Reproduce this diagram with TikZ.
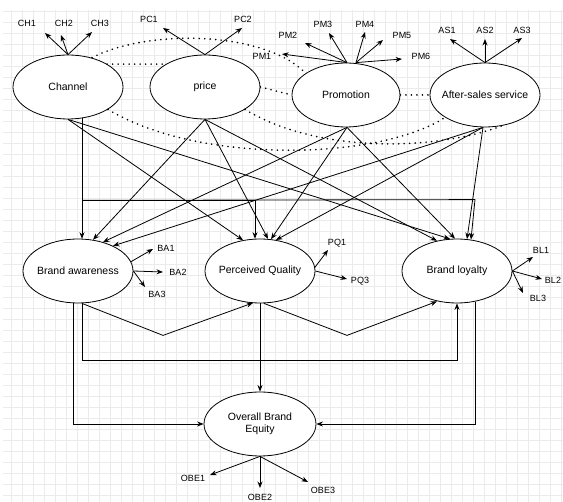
\documentclass[tikz,border=0pt]{standalone}
\usepackage{fontspec}
\setmainfont{Liberation Sans}
\usetikzlibrary{shapes.geometric,arrows.meta,calc}
\begin{document}
\begin{tikzpicture}[x=1pt,y=-1pt,
  lat/.style={draw, ellipse, line width=0.8pt, minimum width=110pt, minimum height=64pt, inner sep=0pt, fill=white},
  txt/.style={font=\fontsize{10.5}{12.5}\selectfont, align=center, inner sep=0pt},
  ind/.style={font=\fontsize{9}{10}\selectfont, inner sep=0pt},
  arr/.style={line width=0.8pt, -{Stealth[length=6.5pt,width=5pt]}},
  cor/.style={line width=1.8pt, dash pattern=on 0pt off 5.5pt, line cap=round}]
\useasboundingbox (0,0) rectangle (563,502);
\fill[white] (0,0) rectangle (563,502);
\draw[gray!16, line width=0.4pt, step=11pt] (3,10) grid (563,502);

% latent variables
\node[lat] (ch) at (68,87) {};
\node[lat] (pr) at (205,87) {};
\node[lat, minimum width=108pt] (pm) at (346,95) {};
\node[lat] (as) at (485,95) {};
\node[lat] (ba) at (78,271) {};
\node[lat] (pq) at (260,271) {};
\node[lat] (bl) at (457,271) {};
\node[lat, minimum width=112pt] (obe) at (260,424) {};
\node[txt] (ch-t) at (ch) {Channel};
\node[txt] (pr-t) at (pr) {price};
\node[txt] (pm-t) at (pm) {Promotion};
\node[txt] (as-t) at (as) {After-sales service};
\node[txt] (ba-t) at (ba) {Brand awareness};
\node[txt] (pq-t) at (pq) {Perceived Quality};
\node[txt] (bl-t) at (bl) {Brand loyalty};
\node[txt] (obe-t) at (obe) {Overall Brand\\Equity};

% indicator labels
\node[ind] (ch1) at (27,23) {CH1};
\node[ind] (ch2) at (64,23) {CH2};
\node[ind] (ch3) at (100,23) {CH3};
\node[ind] (pc1) at (149,19) {PC1};
\node[ind] (pc2) at (243,19) {PC2};
\node[ind] (pm1) at (262,56) {PM1};
\node[ind] (pm2) at (288,35) {PM2};
\node[ind] (pm3) at (323,24) {PM3};
\node[ind] (pm4) at (365,24) {PM4};
\node[ind] (pm5) at (402,35) {PM5};
\node[ind] (pm6) at (421,56) {PM6};
\node[ind] (as1) at (447,30) {AS1};
\node[ind] (as2) at (485,30) {AS2};
\node[ind] (as3) at (522,30) {AS3};
\node[ind] (ba1) at (166,248) {BA1};
\node[ind] (ba2) at (178,272) {BA2};
\node[ind] (ba3) at (157,294) {BA3};
\node[ind] (pq1) at (337,243) {PQ1};
\node[ind] (pq3) at (360,281) {PQ3};
\node[ind] (bl1) at (541,250) {BL1};
\node[ind] (bl2) at (553,280) {BL2};
\node[ind] (bl3) at (538,298) {BL3};
\node[ind] (obe1) at (193,478) {OBE1};
\node[ind] (obe2) at (260,497) {OBE2};
\node[ind] (obe3) at (323,490) {OBE3};

% arrow tips of indicators
\coordinate (t-ch1) at (45,33);
\coordinate (t-ch2) at (61,35);
\coordinate (t-ch3) at (92,32);
\coordinate (t-pc1) at (163,28);
\coordinate (t-pc2) at (242,28);
\coordinate (t-pm1) at (282,54);
\coordinate (t-pm2) at (305,43);
\coordinate (t-pm3) at (329,33);
\coordinate (t-pm4) at (365,32);
\coordinate (t-pm5) at (383,40);
\coordinate (t-pm6) at (402,59);
\coordinate (t-as1) at (450,39);
\coordinate (t-as2) at (485,39);
\coordinate (t-as3) at (522,38);
\coordinate (t-ba1) at (153,249);
\coordinate (t-ba2) at (163,272);
\coordinate (t-ba3) at (145,287);
\coordinate (t-pq1) at (328,250);
\coordinate (t-pq3) at (347,279);
\coordinate (t-bl1) at (533,257);
\coordinate (t-bl2) at (542,279);
\coordinate (t-bl3) at (523,293);
\coordinate (t-obe1) at (210,475);
\coordinate (t-obe2) at (260,488);
\coordinate (t-obe3) at (308,482);

\foreach \t in {ch1,ch2,ch3} \draw[arr] (ch.north) -- (t-\t);
\foreach \t in {pc1,pc2} \draw[arr] (pr.north) -- (t-\t);
\foreach \t in {pm1,pm2,pm3} \draw[arr] ($(pm.north)+(1,0)$) -- (t-\t);
\foreach \t in {pm4,pm5,pm6} \draw[arr] ($(pm.north)+(10,0)$) -- (t-\t);
\foreach \t in {as1,as2,as3} \draw[arr] (as.north) -- (t-\t);
\draw[arr] (ba.10) -- (t-ba1);
\foreach \t in {ba2,ba3} \draw[arr] (ba.east) -- (t-\t);
\draw[arr] ($(pq.east)+(-1,-3)$) -- (t-pq1);
\draw[arr] (pq.east) -- (t-pq3);
\foreach \t in {bl1,bl2,bl3} \draw[arr] (bl.east) -- (t-\t);
\foreach \t in {obe1,obe2,obe3} \draw[arr] (obe.south) -- (t-\t);

% correlations
\draw[cor] (ch.north east) -- (pr.north west);
\draw[cor] ($(ch.north)+(24,3)$) .. controls (150,28) and (265,32) .. ($(pm.north)+(-41,10)$);
\draw[cor] (pr.east) -- (pm.west);
\draw[cor] (pm.east) -- (as.west);
\draw[cor] ($(ch.south)+(40,-10)$) .. controls (200,165) and (380,160) .. ($(as.south)+(-40,-10)$);
\draw[cor] ($(pr.south)+(40,-10)$) .. controls (320,155) and (440,150) .. ($(as.south)+(18,-2)$);

% Channel paths
\coordinate (chv) at ($(ch.south)+(14,-1)$);
\coordinate (brk) at ($(ch.south)+(14,81)$);
\draw[arr] (chv) -- ($(ba.north)+(4,0.2)$);
\draw[arr] (brk) -| ($(pq.north)+(-5,0.1)$);
\draw[arr] (brk) -- ($(bl.north)+(18,-39)$) -- ($(bl.north)+(14,1)$);
\draw[arr] (ch.south) -- ($(pq.north)+(-17,1.6)$);
\draw[arr] (ch.south) -- ($(bl.north)+(-7,0.3)$);

% price paths
\draw[arr] (pr.south) -- ($(ba.north)+(15,1.2)$);
\draw[arr] (pr.south) -- ($(pq.north)+(8,0.3)$);
\draw[arr] (pr.south) -- ($(bl.north)+(-20,2.2)$);

% Promotion paths
\draw[arr] ($(pm.south)+(1,0)$) -- ($(ba.north)+(25,3.5)$);
\draw[arr] ($(pm.south)+(1,0)$) -- ($(pq.north)+(11,0.6)$);
\draw[arr] ($(pm.south)+(1,0)$) -- ($(bl.north)+(-2,0)$);

% After-sales paths
\draw[arr] ($(as.south)+(-2,0)$) -- ($(ba.north)+(35,7.3)$);
\draw[arr] ($(as.south)+(-2,0)$) -- ($(pq.north)+(16,1.4)$);
\draw[arr] ($(as.south)+(-2,0)$) -- ($(bl.north)+(10,0.5)$);

% lower structure
\draw[arr] ($(ba.south)+(4,0)$) -- ++(81,32) -- ($(pq.south)+(-7,-0.5)$);
\draw[arr] ($(pq.south)+(4,0)$) -- ++(83,32) -- ($(bl.south)+(-20,-2)$);
\draw[arr] ($(ba.south)+(4,0)$) -- ++(0,57) -| (bl.south);
\draw[arr] ($(ba.south)+(-5,-0.3)$) |- (obe.west);
\draw[arr] (pq.south) -- (obe.north);
\draw[arr] ($(bl.south)+(18,-1.7)$) |- (obe.east);
\end{tikzpicture}
\end{document}
